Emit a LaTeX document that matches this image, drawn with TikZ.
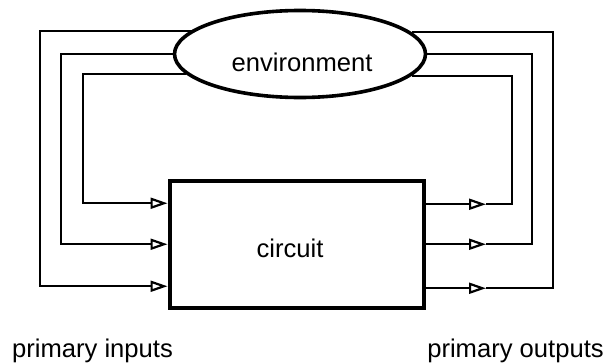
\documentclass[tikz,border=0pt]{standalone}
\usepackage{fontspec}
\setmainfont{Liberation Sans}
\usetikzlibrary{arrows.meta,shapes.geometric,calc}
\begin{document}
\begin{tikzpicture}[x=1pt,y=-1pt,
  wire/.style={line width=1.6pt},
  intip/.style={-{Triangle[open,length=17pt,width=11pt,line width=2.2pt]}},
  lbl/.style={font=\fontsize{25.6pt}{30pt}\selectfont, inner sep=0pt, anchor=base},
  ]
\useasboundingbox (0,0) rectangle (606,364);

% environment and circuit
\node[ellipse, draw, line width=3.6pt, minimum width=251pt, minimum height=87pt, inner sep=0pt] (env) at (300,54) {};
\node[lbl] (envtxt) at (302,71) {environment};
\node[draw, line width=4pt, minimum width=254.5pt, minimum height=126.5pt, inner sep=0pt] (box) at (296.75,244.25) {};
\node[lbl] (ctxt) at (290,257) {circuit};

% labels
\node[lbl] (pin) at (92.5,357) {primary inputs};
\node[lbl] (pout) at (515.5,357) {primary outputs};

% columns of the feedback wires
\coordinate (colLo) at (40,0);
\coordinate (colLm) at (61,0);
\coordinate (colLi) at (83,0);
\coordinate (colRi) at (512,0);
\coordinate (colRm) at (532,0);
\coordinate (colRo) at (553,0);
\coordinate (mk) at (486,0);

% ports of the circuit
\coordinate (in1) at ($(box.west)+(0,-41)$);
\coordinate (in2) at (box.west);
\coordinate (in3) at ($(box.west)+(0,42)$);
\coordinate (out1) at ($(box.east)+(0,-40)$);
\coordinate (out2) at (box.east);
\coordinate (out3) at ($(box.east)+(0,44)$);

% primary inputs
\draw[wire,intip] (env.190.59) -| (colLi |- in1) -- (in1);
\draw[wire,intip] (env.west) -| (colLm |- in2) -- (in2);
\draw[wire,intip] (env.168.77) -| (colLo |- in3) -- (in3);

% primary outputs
\draw[wire,intip] (out1) -- (mk |- out1);
\draw[wire] (mk |- out1) -| (colRi |- env.349.41) -- (env.349.41);
\draw[wire,intip] (out2) -- (mk |- out2);
\draw[wire] (mk |- out2) -| (colRm |- env.east) -- (env.east);
\draw[wire,intip] (out3) -- (mk |- out3);
\draw[wire] (mk |- out3) -| (colRo |- env.11.23) -- (env.11.23);
\end{tikzpicture}
\end{document}
